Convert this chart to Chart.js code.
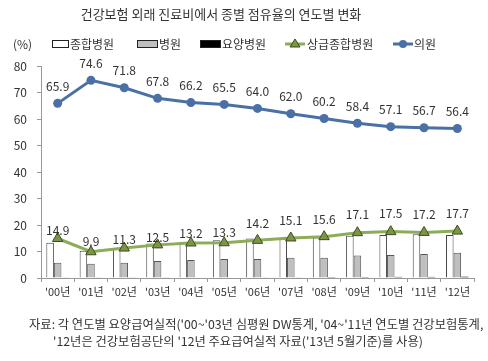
<!DOCTYPE html>
<html>
<head>
<meta charset="utf-8">
<script src="https://cdn.jsdelivr.net/npm/chart.js@4"></script>
<style>
  body { margin: 0; background: #fff; }
  #wrap { position: relative; width: 488px; height: 361px; overflow: hidden; font-family: 'Noto Sans CJK KR', sans-serif; color: #333; }
  #chart { position: absolute; left: 0; top: 0; }
  #title { position: absolute; left: 0; width: 442px; top: 4px; text-align: center; font-size: 13px; }
  .note { position: absolute; font-size: 12.3px; white-space: nowrap; }
</style>
</head>
<body>
<div id="wrap">
  <canvas id="chart" width="488" height="361"></canvas>
  <div id="title">건강보험 외래 진료비에서 종별 점유율의 연도별 변화</div>
  <div class="note" style="left:29px; top:315px;">자료: 각 연도별 요양급여실적('00~'03년 심평원 DW통계, '04~'11년 연도별 건강보험통계,</div>
  <div class="note" style="left:53px; top:332px;">'12년은 건강보험공단의 '12년 주요급여실적 자료('13년 5월기준)를 사용)</div>
</div>
<script>
// 연도
const years = ["'00년", "'01년", "'02년", "'03년", "'04년", "'05년", "'06년", "'07년", "'08년", "'09년", "'10년", "'11년", "'12년"];

// 막대 (%)
const generalHosp = [13.3, 10.3, 11.0, 13.0, 13.7, 14.2, 14.9, 14.8, 15.3, 15.9, 16.2, 16.5, 16.2];
const hospital = [5.8, 5.4, 5.8, 6.4, 6.8, 7.2, 7.2, 7.6, 7.6, 8.5, 8.7, 9.1, 9.5];
const nursingHosp = [0.1, 0.1, 0.1, 0.1, 0.2, 0.2, 0.3, 0.3, 0.4, 0.4, 0.5, 0.5, 0.6];

// 선 (%)
const tertiary = [14.9, 9.9, 11.3, 12.5, 13.2, 13.3, 14.2, 15.1, 15.6, 17.1, 17.5, 17.2, 17.7];
const clinic = [65.9, 74.6, 71.8, 67.8, 66.2, 65.5, 64.0, 62.0, 60.2, 58.4, 57.1, 56.7, 56.4];

const yTicks = [0, 10, 20, 30, 40, 50, 60, 70, 80];

// 라벨 간격 (px)
const tertiaryLabelGap = [8, 10, 9, 7, 10, 10, 17, 18, 17, 18, 18, 18, 18];
const clinicLabelGap = 17;

const FONT = "'Noto Sans CJK KR', sans-serif";
const BLUE = '#4a70a6';
const GREEN = '#8dac5a';

// 값 라벨
const valueLabels = {
    id: 'valueLabels',
    afterDatasetsDraw(chart) {
        const ctx = chart.ctx;
        ctx.save();
        ctx.font = '12px ' + FONT;
        ctx.fillStyle = '#333';
        ctx.textAlign = 'center';
        ctx.textBaseline = 'middle';
        chart.data.datasets.forEach((ds, i) => {
            if (!ds.showValues) return;
            chart.getDatasetMeta(i).data.forEach((pt, j) => {
                const gap = Array.isArray(ds.labelGap) ? ds.labelGap[j] : ds.labelGap;
                ctx.fillText(ds.data[j].toFixed(1), pt.x, pt.y - gap);
            });
        });
        ctx.restore();
    }
};

// 범례
const customLegend = {
    id: 'customLegend',
    afterDraw(chart) {
        const ctx = chart.ctx;
        const y = 44;
        ctx.save();
        ctx.font = '12px ' + FONT;
        ctx.fillStyle = '#333';
        ctx.textBaseline = 'middle';
        ctx.fillText('(%)', 13, y);

        const boxes = [
            { x: 52, w: 16, fill: '#fff', label: '종합병원' },
            { x: 137, w: 20, fill: '#bfbfbf', label: '병원' },
            { x: 200, w: 20, fill: '#000', label: '요양병원' }
        ];
        boxes.forEach(b => {
            ctx.fillStyle = b.fill;
            ctx.strokeStyle = '#222';
            ctx.lineWidth = 1;
            ctx.fillRect(b.x, y - 3, b.w, 6);
            ctx.strokeRect(b.x + 0.5, y - 3.5, b.w, 7);
            ctx.fillStyle = '#333';
            ctx.fillText(b.label, b.x + b.w + 2, y);
        });

        // 상급종합병원
        ctx.strokeStyle = GREEN;
        ctx.lineWidth = 3;
        ctx.beginPath();
        ctx.moveTo(285, y);
        ctx.lineTo(305, y);
        ctx.stroke();
        ctx.fillStyle = '#7a9646';
        ctx.strokeStyle = '#3d4d20';
        ctx.lineWidth = 1;
        ctx.beginPath();
        ctx.moveTo(295, y - 5);
        ctx.lineTo(300, y + 3);
        ctx.lineTo(290, y + 3);
        ctx.closePath();
        ctx.fill();
        ctx.stroke();
        ctx.fillStyle = '#333';
        ctx.fillText('상급종합병원', 307, y);

        // 의원
        ctx.strokeStyle = BLUE;
        ctx.lineWidth = 3;
        ctx.beginPath();
        ctx.moveTo(393, y);
        ctx.lineTo(413, y);
        ctx.stroke();
        ctx.fillStyle = BLUE;
        ctx.beginPath();
        ctx.arc(403, y, 4, 0, Math.PI * 2);
        ctx.fill();
        ctx.fillStyle = '#333';
        ctx.fillText('의원', 414, y);
        ctx.restore();
    }
};

new Chart(document.getElementById('chart'), {
    type: 'bar',
    data: {
        labels: years,
        datasets: [
            {
                type: 'line',
                label: '의원',
                data: clinic,
                borderColor: BLUE,
                backgroundColor: BLUE,
                borderWidth: 3,
                pointRadius: 4.5,
                pointBorderWidth: 0,
                tension: 0,
                order: 0,
                showValues: true,
                labelGap: clinicLabelGap
            },
            {
                type: 'line',
                label: '상급종합병원',
                data: tertiary,
                borderColor: GREEN,
                backgroundColor: '#7a9646',
                borderWidth: 3,
                pointStyle: 'triangle',
                pointRadius: 6,
                pointBorderColor: '#3d4d20',
                pointBorderWidth: 1,
                tension: 0,
                order: 0,
                showValues: true,
                labelGap: tertiaryLabelGap
            },
            {
                label: '종합병원',
                data: generalHosp,
                backgroundColor: '#fff',
                borderColor: '#444',
                borderWidth: 1,
                order: 1
            },
            {
                label: '병원',
                data: hospital,
                backgroundColor: '#bfbfbf',
                borderColor: '#555',
                borderWidth: 1,
                order: 1
            },
            {
                label: '요양병원',
                data: nursingHosp,
                backgroundColor: '#000',
                borderColor: '#000',
                borderWidth: 1,
                order: 1
            }
        ]
    },
    options: {
        responsive: false,
        animation: false,
        barPercentage: 1,
        categoryPercentage: 0.68,
        layout: {
            padding: { top: 66, left: 0, right: 14, bottom: 53 }
        },
        plugins: {
            legend: { display: false },
            tooltip: { enabled: false },
            title: { display: false }
        },
        scales: {
            x: {
                offset: true,
                grid: { offset: true, drawOnChartArea: false, tickLength: 4, color: '#999' },
                border: { color: '#999' },
                ticks: { color: '#333', font: { family: FONT, size: 11 }, padding: 3, maxRotation: 0, autoSkip: false },
                afterFit(scale) { scale.height = 30; }
            },
            y: {
                min: 0,
                max: 80,
                afterBuildTicks(scale) { scale.ticks = yTicks.map(v => ({ value: v })); },
                grid: { drawOnChartArea: false, tickLength: 4, color: '#999' },
                border: { color: '#999' },
                ticks: { color: '#333', font: { family: FONT, size: 12 }, padding: 10 },
                afterFit(scale) { scale.width = 41; }
            }
        }
    },
    plugins: [valueLabels, customLegend]
});
</script>
</body>
</html>
